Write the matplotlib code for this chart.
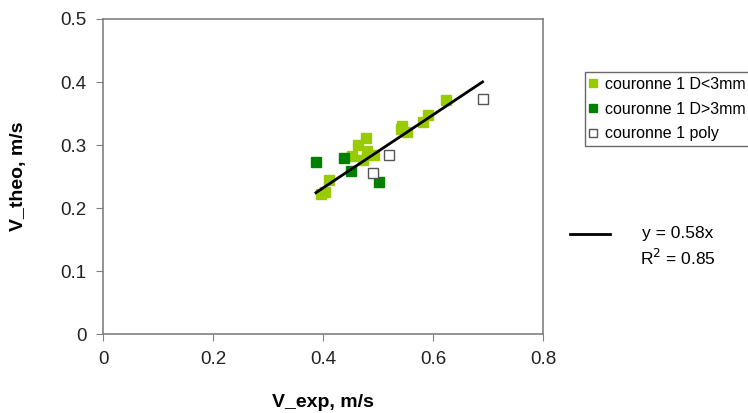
#Import packages
import matplotlib
matplotlib.use('Agg')
import numpy as np
import matplotlib.pyplot as plt
from matplotlib.lines import Line2D

plt.rcParams['font.family'] = ['Liberation Sans', 'DejaVu Sans']

#Data
small_x = [0.396, 0.404, 0.411, 0.452, 0.463, 0.472, 0.478, 0.479, 0.493,
           0.543, 0.541, 0.552, 0.582, 0.591, 0.624]
small_y = [0.222, 0.226, 0.244, 0.283, 0.300, 0.277, 0.311, 0.291, 0.284,
           0.330, 0.325, 0.321, 0.337, 0.348, 0.371]
big_x = [0.387, 0.438, 0.450, 0.502]
big_y = [0.273, 0.280, 0.259, 0.242]
poly_x = [0.490, 0.520, 0.690]
poly_y = [0.255, 0.284, 0.373]
slope = 0.58
r2 = 0.85

xticks = [0, 0.2, 0.4, 0.6, 0.8]
yticks = [0, 0.1, 0.2, 0.3, 0.4, 0.5]

#Main script
def main():
	fig = plt.figure(figsize=(7.48, 4.13), dpi=100)
	ax = fig.add_axes([0.138, 0.191, 0.588, 0.763])

	ax.plot(small_x, small_y, 's', color='#99cc00', markersize=7.5, mec='#99cc00',
	        label='couronne 1 D<3mm', zorder=3)
	ax.plot(big_x, big_y, 's', color='#008000', markersize=7.5, mec='#008000',
	        label='couronne 1 D>3mm', zorder=3)
	ax.plot(poly_x, poly_y, 's', mfc='white', mec='#555555', markersize=7.5, mew=1,
	        label='couronne 1 poly', zorder=3)

	#Trend line through origin over the data range
	all_x = np.array(small_x + big_x + poly_x)
	xs = np.array([all_x.min(), all_x.max()])
	ax.plot(xs, slope * xs, color='black', lw=2, zorder=4)

	ax.set_xlim(0, 0.8)
	ax.set_ylim(0, 0.5)
	ax.set_xticks(xticks)
	ax.set_yticks(yticks)
	ax.set_xticklabels(['0', '0.2', '0.4', '0.6', '0.8'])
	ax.set_yticklabels(['0', '0.1', '0.2', '0.3', '0.4', '0.5'])
	ax.tick_params(direction='out', length=5, color='#808080', labelsize=13.5,
	               labelcolor='#222222', pad=7)
	for sp in ax.spines.values():
		sp.set_color('#808080')
		sp.set_linewidth(1.2)

	ax.set_xlabel('V_exp, m/s', fontsize=14, fontweight='bold', labelpad=19)
	ax.set_ylabel('V_theo, m/s', fontsize=14, fontweight='bold', labelpad=24)

	leg = fig.legend(loc='upper left', bbox_to_anchor=(0.7815, 0.825),
	                 fontsize=11.5, frameon=True, fancybox=False,
	                 handlelength=0.5, handletextpad=0.45, borderpad=0.3,
	                 labelspacing=0.6, markerscale=0.8, borderaxespad=0)
	leg.get_frame().set_edgecolor('#444444')
	leg.get_frame().set_linewidth(1)

	#Trendline legend
	fig.add_artist(Line2D([0.762, 0.816], [0.434, 0.434], color='black', lw=2,
	                      transform=fig.transFigure))
	fig.text(0.906, 0.434, 'y = %.2fx' % slope, fontsize=12.5, ha='center', va='center')
	fig.text(0.906, 0.375, 'R$^2$ = %.2f' % r2, fontsize=12.5, ha='center', va='center')

	fig.savefig('out.png', dpi=100)

#Execute main script
if __name__ == '__main__':
	main()
